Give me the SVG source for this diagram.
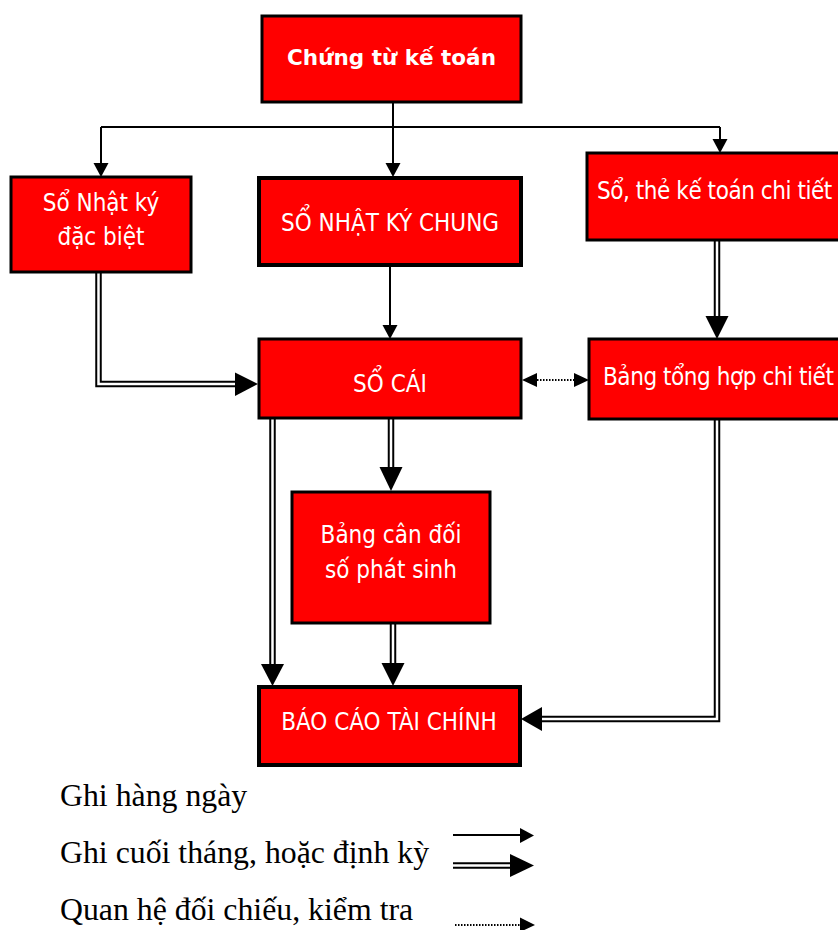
<svg xmlns="http://www.w3.org/2000/svg" width="838" height="930" viewBox="0 0 838 930">
<style>
.box{fill:#ff0000;stroke:#000;stroke-width:3}
.thick{stroke-width:4}
.t{fill:#fff;font-family:"DejaVu Sans Condensed","DejaVu Sans",sans-serif;font-stretch:condensed;font-size:24px;text-anchor:middle}
.ts{text-anchor:start;letter-spacing:-0.45px}
.title{font-family:"DejaVu Sans",sans-serif;font-stretch:normal;font-weight:bold;font-size:21.5px}
.ln{fill:none;stroke:#000;stroke-width:2}
.dbl{fill:none;stroke:#000;stroke-width:6.5;stroke-linejoin:miter}
.dblw{fill:none;stroke:#fff;stroke-width:2.5;stroke-linejoin:miter}
.dot{fill:none;stroke:#000;stroke-width:2;stroke-dasharray:1.5 1.5}
.ah{fill:#000}
.lg{fill:#000;font-family:"Liberation Serif","Times New Roman",serif;font-size:31.8px}
</style>
<g id="connectors">
  <path class="ln" d="M393,102 V127 M101,127 H720 M101,127 V164 M393,127 V164 M720,127 V140"/>
  <polygon class="ah" points="93.5,163 108.5,163 101,177"/>
  <polygon class="ah" points="385.5,163 400.5,163 393,177"/>
  <polygon class="ah" points="712.5,139 727.5,139 720,153"/>
  <path class="ln" d="M390,266 V326"/>
  <polygon class="ah" points="382.5,325 397.5,325 390,339"/>
  <path class="dbl" d="M98.5,273 V384 H237"/>
  <path class="dblw" d="M98.5,273 V384 H237"/>
  <polygon class="ah" points="235,372.5 235,396 258,384"/>
  <path class="dbl" d="M717,241 V317"/>
  <path class="dblw" d="M717,241 V317"/>
  <polygon class="ah" points="705.5,316 728.5,316 717,339"/>
  <path class="dbl" d="M272.5,419 V665"/>
  <path class="dblw" d="M272.5,419 V665"/>
  <polygon class="ah" points="261,664 284,664 272.5,686"/>
  <path class="dbl" d="M391,419 V468"/>
  <path class="dblw" d="M391,419 V468"/>
  <polygon class="ah" points="379.5,467 402.5,467 391,491"/>
  <path class="dbl" d="M393,624 V664"/>
  <path class="dblw" d="M393,624 V664"/>
  <polygon class="ah" points="381.5,663 404.5,663 393,686"/>
  <path class="dbl" d="M717,420 V719 H541"/>
  <path class="dblw" d="M717,420 V719 H541"/>
  <polygon class="ah" points="542,707 542,731 521,719"/>
  <path class="dot" d="M537,380 H574"/>
  <polygon class="ah" points="537,373 537,387 522,380"/>
  <polygon class="ah" points="574,373 574,387 589,380"/>
</g>
<g id="chung-tu">
  <rect class="box" x="262" y="16" width="259" height="86"/>
  <text class="t title" x="391.5" y="65">Chứng từ kế toán</text>
</g>
<g id="nhat-ky-dac-biet">
  <rect class="box" x="11" y="177" width="180" height="95"/>
  <text class="t" x="101" y="211">Sổ Nhật ký</text>
  <text class="t" x="101" y="245">đặc biệt</text>
</g>
<g id="nhat-ky-chung">
  <rect class="box thick" x="259" y="178" width="262" height="87"/>
  <text class="t" x="390" y="231">SỔ NHẬT KÝ CHUNG</text>
</g>
<g id="so-the-chi-tiet">
  <rect class="box" x="587" y="153" width="262" height="87"/>
  <text class="t ts" x="597" y="199">Sổ, thẻ kế toán chi tiết</text>
</g>
<g id="so-cai">
  <rect class="box" x="259" y="339" width="262" height="79"/>
  <text class="t" x="390" y="392">SỔ CÁI</text>
</g>
<g id="bang-tong-hop">
  <rect class="box" x="589" y="339" width="260" height="80"/>
  <text class="t ts" x="603" y="385">Bảng tổng hợp chi tiết</text>
</g>
<g id="bang-can-doi">
  <rect class="box" x="292" y="492" width="198" height="131"/>
  <text class="t" x="391" y="543">Bảng cân đối</text>
  <text class="t" x="391" y="578">số phát sinh</text>
</g>
<g id="bao-cao">
  <rect class="box thick" x="259" y="687" width="261" height="78"/>
  <text class="t" x="389" y="730">BÁO CÁO TÀI CHÍNH</text>
</g>
<g id="legend">
  <text class="lg" x="60" y="806">Ghi hàng ngày</text>
  <text class="lg" x="60" y="863">Ghi cuối tháng, hoặc định kỳ</text>
  <text class="lg" x="60" y="920">Quan hệ đối chiếu, kiểm tra</text>
  <path class="ln" d="M453,835 H521"/>
  <polygon class="ah" points="520,828 520,843 534,835.5"/>
  <path class="dbl" d="M453,865.5 H511"/>
  <path class="dblw" d="M453,865.5 H511"/>
  <polygon class="ah" points="510,854 510,877 534,865.5"/>
  <path class="dot" d="M455,925 H521"/>
  <polygon class="ah" points="520,917.5 520,932 535,925"/>
</g>
</svg>
